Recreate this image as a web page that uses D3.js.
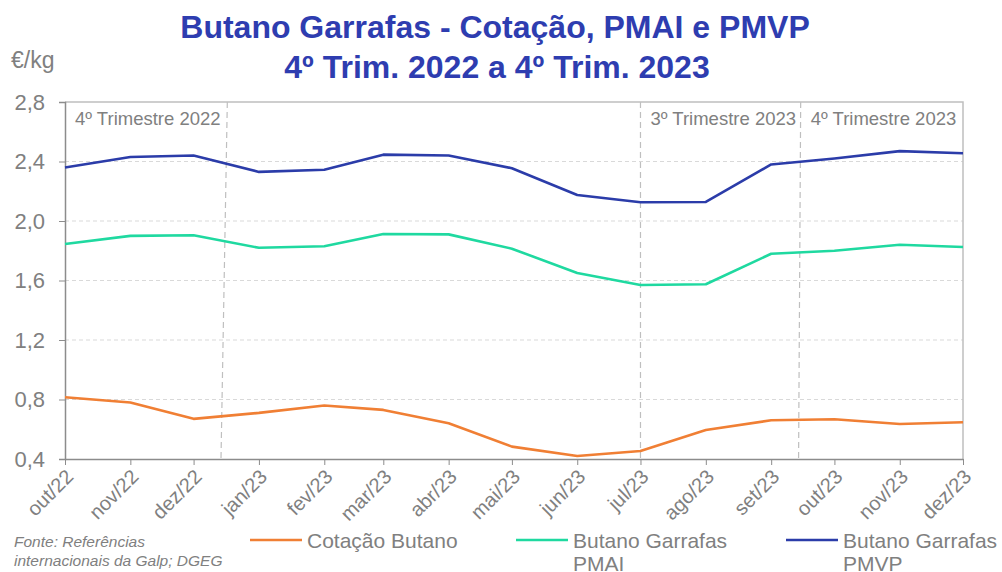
<!DOCTYPE html>
<meta charset="utf-8">
<style>
body { margin: 0; background: #fff; }
svg { font-family: "Liberation Sans", Arial, sans-serif; }
.grid line { stroke: #d9d9d9; stroke-dasharray: 4 3; }
.axis path, .axis line { stroke: #8c8c8c; }
.axis text { fill: #808080; }
</style>
<body>
<script src="https://cdn.jsdelivr.net/npm/d3@7"></script>
<script>
const width = 1002;
const height = 572;

const months = ["2022-10-01", "2022-11-01", "2022-12-01", "2023-01-01", "2023-02-01", "2023-03-01",
    "2023-04-01", "2023-05-01", "2023-06-01", "2023-07-01", "2023-08-01", "2023-09-01",
    "2023-10-01", "2023-11-01", "2023-12-01"];
const monthLabels = ["out/22", "nov/22", "dez/22", "jan/23", "fev/23", "mar/23", "abr/23",
    "mai/23", "jun/23", "jul/23", "ago/23", "set/23", "out/23", "nov/23", "dez/23"];

const cotacao = [0.815, 0.78, 0.67, 0.71, 0.76, 0.73, 0.64, 0.483, 0.42, 0.454, 0.595, 0.66, 0.667, 0.635, 0.647];
const pmai = [1.845, 1.90, 1.904, 1.82, 1.83, 1.913, 1.91, 1.814, 1.65, 1.57, 1.575, 1.78, 1.80, 1.84, 1.825];
const pmvp = [2.36, 2.43, 2.44, 2.33, 2.345, 2.446, 2.44, 2.355, 2.175, 2.126, 2.128, 2.38, 2.42, 2.47, 2.455];

const yTicks = [0.4, 0.8, 1.2, 1.6, 2.0, 2.4, 2.8];

// quarter separators: [top date, bottom date, label]
const quarters = [
    ["2022-12-17", "2022-12-14", "4º Trimestre 2022"],
    ["2023-07-01", "2023-07-01", "3º Trimestre 2023"],
    ["2023-09-15", "2023-09-14", "4º Trimestre 2023"]
];

const series = [
    { name: ["Cotação Butano"], values: cotacao, color: "#f07f34" },
    { name: ["Butano Garrafas", "PMAI"], values: pmai, color: "#1fd9a0" },
    { name: ["Butano Garrafas", "PMVP"], values: pmvp, color: "#2b3ca9" }
];

const parse = d3.timeParse("%Y-%m-%d");
const dates = months.map(parse);

const x = d3.scaleTime()
    .domain([dates[0], dates[dates.length - 1]])
    .range([65, 963]);
const y = d3.scaleLinear()
    .domain([0.4, 2.8])
    .range([459, 102]);

const svg = d3.select("body").append("svg")
    .attr("width", width)
    .attr("height", height);

// title
const title = svg.append("text")
    .attr("text-anchor", "middle")
    .attr("font-size", 32).attr("font-weight", "bold")
    .attr("fill", "#2e3db0");
title.append("tspan").attr("x", 495).attr("y", 38).text("Butano Garrafas - Cotação, PMAI e PMVP");
title.append("tspan").attr("x", 497).attr("y", 78).text("4º Trim. 2022 a 4º Trim. 2023");

svg.append("text")
    .attr("x", 11).attr("y", 68)
    .attr("font-size", 23).attr("fill", "#808080")
    .text("€/kg");

// gridlines
svg.append("g")
    .attr("class", "grid")
    .selectAll("line")
    .data(yTicks.slice(1, -1))
    .enter().append("line")
    .attr("x1", 65).attr("x2", 963)
    .attr("y1", d => y(d)).attr("y2", d => y(d));

// frame top/right
svg.append("path")
    .attr("d", `M65,${y(2.8)}H963V${y(0.4)}`)
    .attr("fill", "none")
    .attr("stroke", "#bfbfbf")
    .attr("stroke-width", 1.5);

// quarter separators
const q = svg.append("g");
q.selectAll("line")
    .data(quarters)
    .enter().append("line")
    .attr("x1", d => x(parse(d[0]))).attr("y1", y(2.8))
    .attr("x2", d => x(parse(d[1]))).attr("y2", y(0.4))
    .attr("stroke", "#bfbfbf")
    .attr("stroke-dasharray", "6 4")
    .attr("stroke-width", 1.2);
q.selectAll("text")
    .data(quarters)
    .enter().append("text")
    .attr("x", (d, i) => i === 0 ? 75 : x(parse(d[0])) + 10)
    .attr("y", 125)
    .attr("font-size", 18.5)
    .attr("fill", "#808080")
    .text(d => d[2]);

// axes
const yAxis = svg.append("g")
    .attr("class", "axis")
    .attr("transform", "translate(65,0)")
    .call(d3.axisLeft(y).tickValues(yTicks)
        .tickFormat(d => d3.format(".1f")(d).replace(".", ","))
        .tickSize(6).tickPadding(14));
yAxis.selectAll("text").attr("font-size", 22);
yAxis.select(".domain").attr("stroke-width", 1.5);

const xAxis = svg.append("g")
    .attr("class", "axis")
    .attr("transform", `translate(0,${y(0.4)})`)
    .call(d3.axisBottom(x).tickValues(dates)
        .tickFormat((d, i) => monthLabels[i])
        .tickSize(6).tickSizeOuter(0));
xAxis.select(".domain").attr("stroke-width", 1.5);
xAxis.selectAll("text")
    .attr("font-size", 20)
    .attr("text-anchor", "end")
    .attr("dy", null)
    .attr("y", 0)
    .attr("transform", "translate(9,19) rotate(-45)");

// lines
const line = d3.line()
    .x((d, i) => x(dates[i]))
    .y(d => y(d));

svg.append("g")
    .selectAll("path")
    .data(series)
    .enter().append("path")
    .attr("d", d => line(d.values))
    .attr("fill", "none")
    .attr("stroke", d => d.color)
    .attr("stroke-width", 2.6)
    .attr("stroke-linejoin", "round");

// legend
const legendX = [250, 516, 786];
const legend = svg.append("g")
    .selectAll("g")
    .data(series)
    .enter().append("g")
    .attr("transform", (d, i) => `translate(${legendX[i]},540)`);
legend.append("line")
    .attr("x1", 0).attr("x2", 52)
    .attr("stroke", d => d.color)
    .attr("stroke-width", 2.6);
legend.append("text")
    .attr("font-size", 21)
    .attr("fill", "#808080")
    .selectAll("tspan")
    .data(d => d.name)
    .enter().append("tspan")
    .attr("x", 57)
    .attr("y", (d, i) => 8 + i * 23)
    .text(d => d);

// source
const src = svg.append("text")
    .attr("font-size", 15.5)
    .attr("font-style", "italic")
    .attr("fill", "#808080");
src.append("tspan").attr("x", 14).attr("y", 547).text("Fonte: Referências");
src.append("tspan").attr("x", 14).attr("y", 566).text("internacionais da Galp; DGEG");
</script>
</body>
